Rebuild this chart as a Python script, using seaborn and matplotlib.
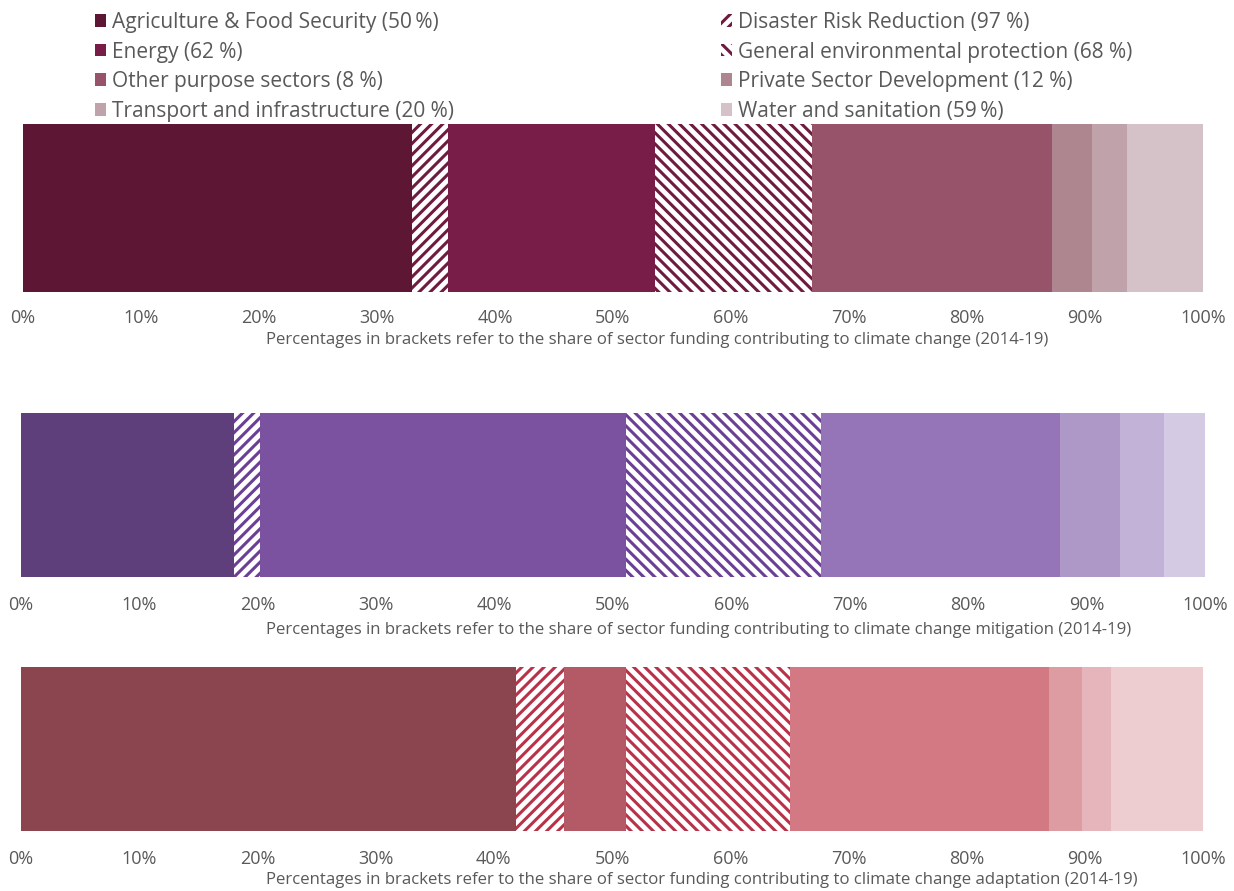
import matplotlib
matplotlib.use("Agg")
import matplotlib.pyplot as plt
from matplotlib.patches import Patch
import seaborn as sns
import pandas as pd

# ---------------- data ----------------
sectors = ["Agriculture & Food Security", "Disaster Risk Reduction", "Energy",
           "General environmental protection", "Other purpose sectors",
           "Private Sector Development", "Transport and infrastructure",
           "Water and sanitation"]
legend_pct = ["50\u2009%", "97 %", "62 %", "68 %", "8 %", "12 %", "20 %", "59\u2009%"]
hatched = [False, True, False, True, False, False, False, False]
hatch_dirs = [None, "/", None, "\\", None, None, None, None]

share_total = [33.0, 3.0, 17.6, 13.3, 20.3, 3.4, 3.0, 6.4]
share_mitigation = [18.0, 2.2, 30.9, 16.5, 20.15, 5.05, 3.7, 3.5]
share_adaptation = [41.9, 4.0, 5.3, 13.9, 21.9, 2.8, 2.4, 7.8]

colors_total = ["#5D1633", "#6F1B3F", "#771D47", "#6F1B3F", "#97536A", "#AE868F", "#C0A2AA", "#D5C2C8"]
colors_mitigation = ["#5E3F7B", "#6B3F95", "#7A52A0", "#6B3F95", "#9574B8", "#AD98C8", "#C2B2D7", "#D4CAE4"]
colors_adaptation = ["#8B454F", "#B8334A", "#B45A66", "#B8334A", "#D37984", "#DC9CA2", "#E6B5BB", "#EDCDD0"]

captions = [
    "Percentages in brackets refer to the share of sector funding contributing to climate change (2014-19)",
    "Percentages in brackets refer to the share of sector funding contributing to climate change mitigation (2014-19)",
    "Percentages in brackets refer to the share of sector funding contributing to climate change adaptation (2014-19)",
]
tick_values = list(range(0, 101, 10))
tick_labels = [f"{v}%" for v in tick_values]

# ---------------- style ----------------
DPI = 100
sns.set_theme(style="white")
plt.rcParams["font.family"] = ["Open Sans", "DejaVu Sans"]
plt.rcParams["hatch.linewidth"] = 2.2
GREY = "#595959"

W, H = 1234, 891
fig = plt.figure(figsize=(W / DPI, H / DPI), dpi=DPI)

# axes rectangles in pixels: (x0, x1, ytop, ybottom)
rects = [(23, 1203, 124, 292), (21, 1205, 413, 577), (21, 1203, 667, 831)]
panels = [share_total, share_mitigation, share_adaptation]
palettes = [colors_total, colors_mitigation, colors_adaptation]
pads = [12, 14, 14]
caption_y = [340, 630, 880]

for k, (rect, vals, cols) in enumerate(zip(rects, panels, palettes)):
    x0, x1, yt, yb = rect
    ax = fig.add_axes([x0 / W, 1 - yb / H, (x1 - x0) / W, (yb - yt) / H])
    df = pd.DataFrame({"sector": sectors, "share": vals, "color": cols,
                       "hatch": hatch_dirs})
    df["cum"] = df["share"].cumsum()
    df["panel"] = "p"
    # draw cumulative bars from the largest to the smallest (stacking)
    for i in reversed(range(len(df))):
        row = df.iloc[[i]]
        if hatched[i]:
            sns.barplot(data=row, x="cum", y="panel", orient="y", ax=ax,
                        color="white", saturation=1, width=1.0,
                        hatch=row["hatch"].iloc[0] * 3,
                        edgecolor=row["color"].iloc[0], linewidth=0)
        else:
            sns.barplot(data=row, x="cum", y="panel", orient="y", ax=ax,
                        color=row["color"].iloc[0], saturation=1, width=1.0,
                        linewidth=0)
    ax.set_xlim(0, 100)
    ax.set_ylim(0.5, -0.5)
    ax.set_xticks(tick_values)
    ax.set_xticklabels(tick_labels)
    ax.set_yticks([])
    ax.set_xlabel("")
    ax.set_ylabel("")
    ax.tick_params(axis="x", length=0, pad=pads[k], labelsize=13, labelcolor=GREY)
    for s in ax.spines.values():
        s.set_visible(False)
    ax.set_facecolor("none")
    fig.text(266 / W, 1 - caption_y[k] / H, captions[k], fontsize=12.1,
             color=GREY, ha="left", va="center")

# ---------------- legend ----------------
handles = []
for i, name in enumerate(sectors):
    lab = f"{name} ({legend_pct[i]})"
    if hatched[i]:
        h = Patch(facecolor="white", edgecolor=colors_total[i], hatch=hatch_dirs[i] * 3,
                  linewidth=0, label=lab)
    else:
        h = Patch(facecolor=colors_total[i], edgecolor="none", linewidth=0, label=lab)
    handles.append(h)

left_h = [handles[i] for i in (0, 2, 4, 6)]
right_h = [handles[i] for i in (1, 3, 5, 7)]
common = dict(frameon=False, fontsize=15, handlelength=0.55, handleheight=0.55,
              handletextpad=0.25, labelspacing=0.41, borderpad=0, borderaxespad=0,
              loc="upper left", labelcolor=GREY)
leg1 = fig.legend(handles=left_h, bbox_to_anchor=(95 / W, 1 - 12 / H), **common)
leg2 = fig.legend(handles=right_h, bbox_to_anchor=(721 / W, 1 - 12 / H), **common)

fig.savefig("out.png", dpi=DPI, facecolor="white")
